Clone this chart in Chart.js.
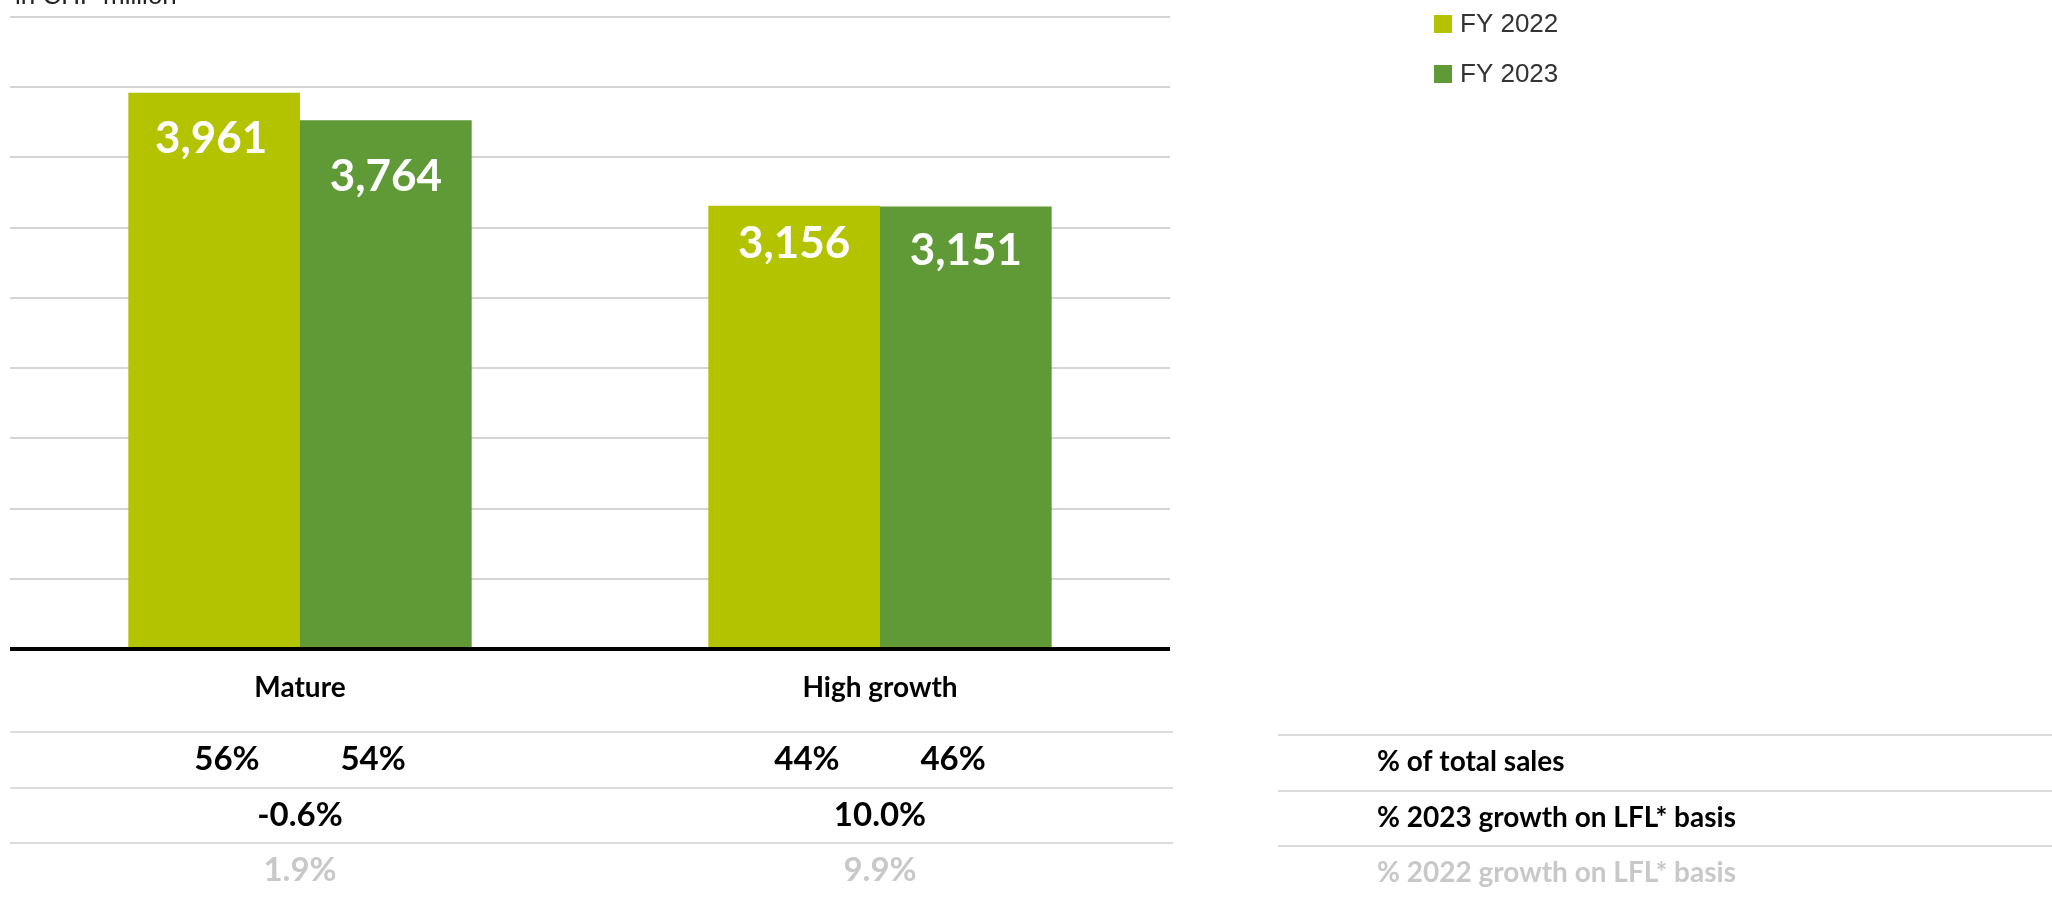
<!DOCTYPE html>
<html>
<head>
<meta charset="utf-8">
<script src="https://cdn.jsdelivr.net/npm/chart.js@4.4.1/dist/chart.umd.min.js"></script>
<style>
  html, body { margin: 0; padding: 0; background: #fff; overflow: hidden; }
  #wrap { position: relative; width: 2052px; height: 897px; }
</style>
</head>
<body>
<div id="wrap"><canvas id="c" width="2052" height="897"></canvas></div>
<script>
// Net sales by market type, in CHF million
const categories = ['Mature', 'High growth'];
const seriesNames = ['FY 2022', 'FY 2023'];
const sales2022 = [3961, 3156];
const sales2023 = [3764, 3151];

// Table rows under the bars
const share2022 = [56, 44];
const share2023 = [54, 46];
const lflGrowth2023 = [-0.6, 10.0];
const lflGrowth2022 = [1.9, 9.9];
const rowLabels = ['% of total sales', '% 2023 growth on LFL* basis', '% 2022 growth on LFL* basis'];

const unitLabel = 'in CHF million';
const yMax = 4500;
const yStep = 500;

// Styling
const colors = ['#b3c300', '#5f9a36'];
const labelFont = 'Lato, "Open Sans", sans-serif';
const plainFont = '"Liberation Sans", Arial, sans-serif';
// distance from bar top down to the value label baseline, per series / category
const labelDrop = [[60, 52], [71, 59]];

const chartPlugin = {
  id: 'salesDecor',
  afterDatasetsDraw(chart) {
    const { ctx, chartArea, scales: { x, y } } = chart;
    ctx.save();

    // zero line
    const y0 = y.getPixelForValue(0);
    ctx.strokeStyle = '#000';
    ctx.lineWidth = 4;
    ctx.beginPath();
    ctx.moveTo(chartArea.left, y0);
    ctx.lineTo(chartArea.right, y0);
    ctx.stroke();

    // values inside the bars
    ctx.fillStyle = '#fff';
    ctx.font = 'bold 44px ' + labelFont;
    ctx.textAlign = 'center';
    ctx.textBaseline = 'alphabetic';
    chart.data.datasets.forEach((ds, di) => {
      chart.getDatasetMeta(di).data.forEach((bar, i) => {
        ctx.fillText(ds.data[i].toLocaleString('en-US'), bar.x - (di === 0 && i === 0 ? 3 : 0), bar.y + labelDrop[di][i]);
      });
    });

    // category names
    ctx.fillStyle = '#000';
    ctx.font = 'bold 28px ' + labelFont;
    categories.forEach((c, i) => {
      ctx.fillText(c, x.getPixelForValue(i), y0 + 48);
    });

    // table separators
    const catW = (chartArea.right - chartArea.left) / categories.length;
    const rowLines = [732, 788, 843];
    ctx.strokeStyle = '#dcdcdc';
    ctx.lineWidth = 2;
    rowLines.forEach(ly => {
      ctx.beginPath();
      ctx.moveTo(chartArea.left, ly);
      ctx.lineTo(chartArea.right + 3, ly);
      ctx.stroke();
      ctx.beginPath();
      ctx.moveTo(1278, ly + 3);
      ctx.lineTo(2052, ly + 3);
      ctx.stroke();
    });

    // table values
    const baselines = [770, 826, 881];
    ctx.font = 'bold 33px ' + labelFont;
    ctx.fillStyle = '#000';
    categories.forEach((c, i) => {
      const cx = x.getPixelForValue(i);
      const dx = catW * 0.126;
      ctx.fillText(share2022[i] + '%', cx - dx, baselines[0]);
      ctx.fillText(share2023[i] + '%', cx + dx, baselines[0]);
      ctx.fillText(lflGrowth2023[i].toFixed(1) + '%', cx, baselines[1]);
    });
    ctx.fillStyle = '#c8c8c8';
    categories.forEach((c, i) => {
      ctx.fillText(lflGrowth2022[i].toFixed(1) + '%', x.getPixelForValue(i), baselines[2]);
    });

    // row captions
    ctx.textAlign = 'left';
    ctx.font = 'bold 28px ' + labelFont;
    rowLabels.forEach((t, r) => {
      ctx.fillStyle = r === 2 ? '#c8c8c8' : '#000';
      ctx.fillText(t, 1377, baselines[r] + 1);
    });

    // legend
    ctx.font = '26px ' + plainFont;
    ctx.textBaseline = 'middle';
    chart.data.datasets.forEach((ds, di) => {
      const ly = 24 + di * 50;
      ctx.fillStyle = ds.backgroundColor;
      ctx.fillRect(1434, ly - 9, 18, 18);
      ctx.fillStyle = '#333';
      ctx.fillText(ds.label, 1460, ly + 1);
    });

    // unit caption
    ctx.textBaseline = 'alphabetic';
    ctx.fillStyle = '#222';
    ctx.fillText(unitLabel, 15, 4);

    ctx.restore();
  }
};

new Chart(document.getElementById('c'), {
  type: 'bar',
  data: {
    labels: categories,
    datasets: [
      { label: seriesNames[0], data: sales2022, backgroundColor: colors[0] },
      { label: seriesNames[1], data: sales2023, backgroundColor: colors[1] }
    ]
  },
  options: {
    responsive: false,
    animation: false,
    devicePixelRatio: 1,
    layout: { padding: { left: 10, right: 882, top: 17, bottom: 248 } },
    datasets: { bar: { barPercentage: 1, categoryPercentage: 0.592, borderWidth: 0 } },
    plugins: { legend: { display: false }, tooltip: { enabled: false } },
    scales: {
      x: { display: false },
      y: {
        min: 0,
        max: yMax,
        ticks: { display: false, stepSize: yStep },
        border: { display: false },
        grid: { color: '#d4d4d4', lineWidth: 2, drawTicks: false }
      }
    }
  },
  plugins: [chartPlugin]
});
</script>
</body>
</html>
